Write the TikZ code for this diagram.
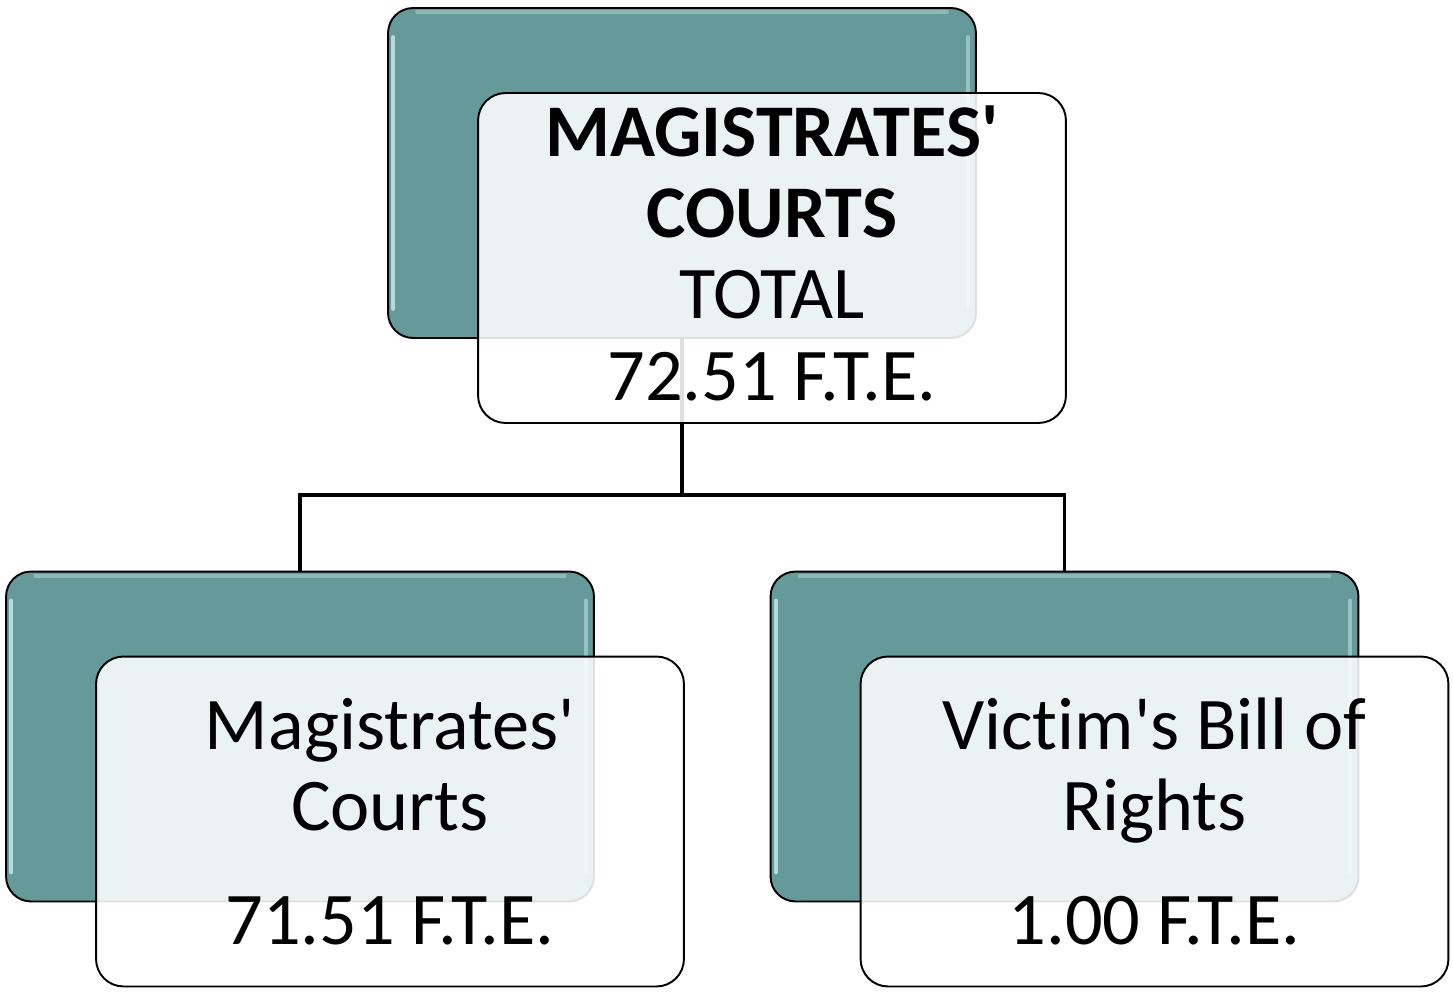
\documentclass[tikz,border=0pt]{standalone}
\usepackage{fontspec}
\setmainfont{Carlito}[Ligatures=NoCommon]
\definecolor{teal1}{RGB}{102,153,153}
\definecolor{gloss}{RGB}{200,235,235}
\newcommand{\apos}{\textquotesingle}
\tikzset{
  tealbox/.style={draw=black, line width=1.1pt, fill=teal1, rounded corners=0.5cm,
    minimum width=11.76cm, minimum height=6.6cm, inner sep=0pt},
  whitebox/.style={draw=black, line width=1.1pt, fill=white, fill opacity=0.875, text opacity=1,
    rounded corners=0.55cm, minimum width=11.76cm, minimum height=6.6cm, inner sep=0pt,
    align=center, font=\fontsize{42.3}{46.2}\selectfont},
  conn/.style={draw=black, line width=2pt},
  shine/.style={draw=gloss, line width=2.2pt, opacity=0.8, line cap=round}
}
\begin{document}
\begin{tikzpicture}[x=0.02cm, y=-0.02cm]
\useasboundingbox (0,0) rectangle (1453,993);
% teal back boxes
\node[tealbox] (tT) at (682,173) {};
\node[tealbox] (tL) at (300,736.5) {};
\node[tealbox] (tR) at (1064.5,736.5) {};
% gloss highlights
\foreach \n in {tT,tL,tR}{
  \draw[shine] ([xshift=0.12cm,yshift=-0.6cm]\n.north west) -- ([xshift=0.12cm,yshift=0.6cm]\n.south west);
  \draw[shine, opacity=0.5] ([xshift=-0.18cm,yshift=-0.6cm]\n.north east) -- ([xshift=-0.18cm,yshift=0.6cm]\n.south east);
  \draw[shine, opacity=0.4] ([xshift=0.6cm,yshift=-0.1cm]\n.north west) -- ([xshift=-0.6cm,yshift=-0.1cm]\n.north east);
}
% connectors
\coordinate (bus) at (682,495);
\draw[conn] (tT.south) -- (tT.south |- bus) -| (tL.north);
\draw[conn] (tT.south |- bus) -| (tR.north);
% front boxes
\node[whitebox] (wT) at (772,258) {\textbf{MAGISTRATES\apos}\\ \textbf{COURTS}\\ TOTAL\\ 72.51 F.T.E.\rule[-0.2cm]{0pt}{0pt}};
\node[whitebox] (wL) at (390,821.5) {Magistrates\apos\\ Courts\\[0.66cm] 71.51 F.T.E.};
\node[whitebox] (wR) at (1154.5,821.5) {Victim\apos s Bill of\\ Rights\\[0.66cm] 1.00 F.T.E.};
\end{tikzpicture}
\end{document}
